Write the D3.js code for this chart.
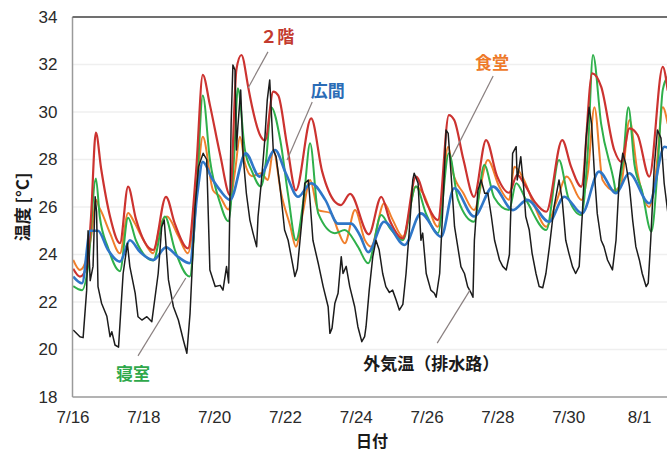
<!DOCTYPE html>
<html><head><meta charset="utf-8">
<script src="https://cdn.jsdelivr.net/npm/d3@7"></script>
<style>
html,body{margin:0;padding:0;background:#fff;}
svg{display:block;}
</style></head>
<body>
<svg id="c" width="667" height="452"></svg>
<script>
// x values are fractional days of July (32 = Aug 1), y values in °C
const yTicks = [18,20,22,24,26,28,30,32,34];
const xTickDays = [16,18,20,22,24,26,28,30,32];
const xTickLabels = ["7/16","7/18","7/20","7/22","7/24","7/26","7/28","7/30","8/1"];

const red2F = [[16.02,23.4],[16.21,23.07],[16.41,23.5],[16.52,25.5],[16.66,29.13],[16.81,27.6],[17.06,25.6],[17.34,24.48],[17.57,26.86],[17.79,25.5],[18.28,24.19],[18.64,26.43],[18.89,25.3],[19.26,24.26],[19.49,27.5],[19.68,31.56],[19.88,30.3],[20.17,28.2],[20.45,26.5],[20.63,31.8],[20.77,32.4],[20.96,31.07],[21.02,30.6],[21.32,28.96],[21.44,28.8],[21.67,30.86],[21.81,30.7],[22.06,28.6],[22.31,26.7],[22.74,29.73],[23.05,27.5],[23.41,26.22],[23.58,26.08],[23.84,26.55],[24.37,24.85],[24.72,26.43],[24.97,25.4],[25.33,24.68],[25.70,27.28],[25.99,26.2],[26.32,25.45],[26.63,29.87],[26.78,29.66],[27.04,28.0],[27.34,26.43],[27.68,28.82],[27.99,27.3],[28.33,26.6],[28.56,27.35],[28.75,27.0],[29.06,26.2],[29.38,25.8],[29.83,28.82],[30.08,27.7],[30.37,26.86],[30.68,31.63],[30.93,31.07],[31.30,28.4],[31.50,27.9],[31.73,29.31],[31.96,29.03],[32.29,27.28],[32.67,31.9],[32.81,30.9]];

const living = [[16.02,23.07],[16.27,22.79],[16.50,25.0],[16.72,25.0],[17.00,24.2],[17.34,23.7],[17.62,24.6],[17.91,24.1],[18.28,23.77],[18.64,24.3],[18.98,23.9],[19.31,23.63],[19.52,26.5],[19.68,27.9],[19.94,27.2],[20.17,26.7],[20.45,26.3],[20.89,28.26],[21.28,27.28],[21.72,28.4],[22.03,27.4],[22.37,26.43],[22.74,27.0],[23.14,26.3],[23.50,25.3],[23.87,25.3],[24.12,24.8],[24.35,24.1],[24.80,25.38],[25.38,24.4],[25.84,25.73],[26.41,24.75],[26.78,26.79],[27.34,25.6],[27.88,26.86],[28.44,25.87],[28.84,26.3],[29.46,25.38],[29.89,26.43],[30.39,25.73],[30.87,27.49],[31.35,26.58],[31.72,27.42],[32.29,26.16],[32.72,28.54],[32.81,28.5]];

const bedroom = [[16.02,22.67],[16.27,22.5],[16.44,23.5],[16.66,27.2],[16.77,25.6],[17.00,24.3],[17.34,23.3],[17.57,25.55],[17.79,24.6],[18.28,23.75],[18.61,25.6],[18.89,24.2],[19.31,23.07],[19.52,27.0],[19.68,30.7],[19.88,28.0],[20.17,26.16],[20.40,25.4],[20.56,28.0],[20.67,31.0],[20.87,28.4],[21.07,27.5],[21.32,26.86],[21.47,28.0],[21.61,30.2],[21.87,28.8],[22.09,26.5],[22.31,24.6],[22.54,26.5],[22.71,28.68],[22.94,25.73],[23.41,24.9],[23.69,25.03],[24.06,24.33],[24.35,23.63],[24.72,25.66],[24.97,25.1],[25.33,24.6],[25.70,26.86],[25.99,25.7],[26.32,24.9],[26.63,28.26],[26.89,26.3],[27.34,25.38],[27.63,27.77],[27.91,26.4],[28.33,25.87],[28.53,27.0],[28.81,26.3],[29.38,25.03],[29.74,27.98],[30.00,26.4],[30.37,25.66],[30.56,28.5],[30.70,32.4],[30.93,29.5],[31.30,27.0],[31.35,26.58],[31.55,28.0],[31.70,30.2],[31.87,27.8],[32.08,26.7],[32.35,24.96],[32.52,27.5],[32.67,30.93],[32.81,31.5]];

const dining = [[16.02,23.77],[16.21,23.35],[16.41,23.9],[16.55,25.0],[16.66,26.3],[16.75,26.0],[16.83,25.75],[17.06,24.9],[17.34,24.05],[17.57,25.75],[17.73,25.4],[17.97,24.7],[18.28,24.05],[18.47,25.2],[18.67,25.6],[18.98,24.8],[19.26,24.05],[19.52,27.0],[19.68,28.96],[19.97,26.7],[20.17,26.43],[20.40,25.9],[20.59,27.5],[20.73,28.96],[20.87,27.84],[21.07,27.3],[21.32,27.42],[21.52,27.14],[21.67,28.4],[21.89,26.58],[22.15,25.2],[22.31,24.33],[22.51,25.8],[22.71,27.14],[22.94,25.87],[23.30,25.74],[23.50,25.0],[23.69,24.47],[23.98,25.87],[24.26,24.6],[24.43,24.33],[24.80,26.16],[25.03,25.5],[25.33,24.75],[25.70,26.86],[25.90,26.58],[26.32,25.17],[26.61,28.54],[26.75,27.42],[27.04,26.58],[27.34,25.87],[27.73,27.98],[28.05,26.86],[28.33,26.3],[28.48,27.7],[28.75,27.14],[29.06,26.0],[29.38,25.17],[29.66,26.2],[29.96,27.28],[30.37,26.3],[30.56,27.5],[30.74,30.2],[30.97,27.14],[31.30,26.7],[31.50,27.0],[31.73,29.66],[31.96,27.42],[32.29,26.0],[32.48,27.5],[32.67,30.2],[32.81,29.5]];

const outdoor = [[16.02,20.82],[16.21,20.54],[16.30,20.5],[16.40,22.5],[16.44,25.0],[16.50,22.9],[16.58,23.5],[16.64,26.43],[16.68,25.8],[16.72,22.65],[16.82,21.95],[16.97,21.4],[17.06,20.54],[17.11,20.75],[17.20,20.19],[17.30,20.1],[17.43,23.2],[17.55,24.47],[17.62,23.49],[17.77,22.37],[17.85,21.38],[17.96,21.24],[18.10,21.38],[18.24,21.17],[18.42,23.2],[18.52,25.17],[18.59,25.45],[18.71,22.93],[18.85,21.8],[18.99,21.24],[19.13,20.4],[19.23,19.84],[19.32,21.52],[19.46,26.0],[19.56,27.7],[19.69,28.26],[19.79,28.0],[19.88,23.35],[20.03,22.65],[20.17,22.7],[20.25,22.5],[20.35,23.49],[20.41,22.8],[20.48,29.52],[20.53,31.98],[20.59,31.77],[20.63,28.4],[20.67,29.38],[20.75,30.93],[20.82,28.12],[20.91,26.58],[21.01,25.45],[21.10,24.89],[21.20,24.33],[21.24,25.59],[21.33,27.0],[21.43,28.82],[21.50,30.5],[21.57,31.35],[21.67,28.4],[21.75,28.12],[21.86,26.86],[21.99,25.03],[22.09,24.6],[22.23,23.49],[22.28,23.07],[22.35,23.4],[22.47,25.3],[22.56,27.0],[22.66,27.14],[22.70,26.43],[22.79,24.6],[22.94,23.63],[23.08,22.65],[23.22,21.8],[23.27,20.68],[23.33,20.9],[23.41,21.95],[23.50,22.37],[23.59,23.91],[23.64,23.2],[23.73,23.5],[23.83,22.65],[23.97,21.8],[24.06,20.96],[24.17,20.33],[24.25,20.54],[24.29,20.96],[24.38,22.5],[24.48,23.9],[24.57,24.6],[24.66,24.2],[24.76,23.2],[24.85,22.65],[24.95,22.4],[25.04,22.5],[25.14,22.08],[25.23,21.66],[25.33,21.9],[25.42,23.2],[25.52,25.17],[25.61,27.14],[25.65,27.42],[25.76,27.0],[25.84,24.6],[25.89,24.9],[25.99,23.2],[26.12,22.5],[26.22,22.37],[26.27,22.2],[26.37,23.2],[26.46,26.0],[26.55,29.24],[26.61,29.1],[26.69,27.42],[26.79,25.17],[26.88,24.33],[26.97,23.49],[27.07,23.2],[27.16,22.65],[27.26,22.37],[27.31,22.2],[27.35,24.6],[27.45,26.7],[27.54,27.14],[27.64,26.58],[27.73,26.58],[27.83,25.6],[27.92,24.6],[28.06,23.77],[28.15,23.5],[28.25,23.35],[28.34,24.0],[28.43,28.26],[28.53,28.54],[28.56,27.14],[28.66,28.12],[28.74,26.86],[28.80,25.6],[28.90,25.03],[28.98,24.05],[29.09,23.2],[29.18,22.65],[29.28,22.6],[29.37,23.2],[29.47,24.33],[29.60,26.0],[29.74,27.14],[29.83,26.3],[29.93,24.6],[30.02,24.05],[30.12,23.49],[30.21,23.2],[30.31,23.5],[30.40,25.73],[30.50,28.82],[30.59,30.2],[30.66,29.5],[30.74,27.42],[30.82,25.73],[30.93,24.6],[31.01,24.33],[31.11,23.77],[31.25,23.35],[31.35,24.6],[31.44,27.14],[31.54,28.26],[31.63,27.8],[31.73,26.86],[31.82,25.45],[31.91,24.33],[32.01,23.77],[32.09,23.2],[32.20,22.65],[32.26,22.8],[32.33,24.6],[32.43,27.7],[32.52,29.24],[32.62,28.9],[32.71,27.0],[32.81,25.8]];

const seriesNames = ["食堂","寝室","２階","広間","外気温（排水路）"];
const seriesData = [dining, bedroom, red2F, living, outdoor];
const seriesColors = ["#f07f2c","#2fb04b","#cc3330","#2f77c8","#1c1c1c"];
const seriesWidths = [2, 2, 2.2, 2.6, 1.5];
const labelColors = ["#ee7a2a","#2ea84a","#c33a2e","#2b6cb6","#1a1a1a"];
// annotation label positions [day, °C], anchor, and leader line endpoints
const labelPos = [[27.85,32.11],[17.71,19.05],[21.78,33.24],[23.21,30.93],[24.21,19.47]];
const labelAnchor = ["middle","middle","middle","middle","start"];
const leaderFrom = [[27.88,31.52],[17.85,19.73],[21.52,32.53],[22.77,30.42],[26.30,20.27]];
const leaderTo = [[26.72,28.11],[19.20,23.01],[20.96,31.01],[22.06,27.98],[27.23,22.51]];

const svg = d3.select("#c");
const pLeft = 72.5, pTop = 17, pBottom = 397, pRight = 667;
const x = d3.scaleLinear().domain([16, 32.79]).range([pLeft, pRight]);
const y = d3.scaleLinear().domain([18, 34]).range([pBottom, pTop]);

// faint gridlines
svg.append("g").selectAll("line").data(yTicks.slice(1,-1)).join("line")
  .attr("x1", pLeft).attr("x2", pRight)
  .attr("y1", d => y(d)).attr("y2", d => y(d))
  .attr("stroke", "#efefef").attr("stroke-width", 1.5);

svg.append("clipPath").attr("id","clp").append("rect")
  .attr("x", pLeft).attr("y", pTop).attr("width", pRight-pLeft).attr("height", pBottom-pTop);

const g = svg.append("g").attr("clip-path","url(#clp)");
seriesData.forEach((data, i) => {
  const line = d3.line().x(d => x(d[0])).y(d => y(d[1]))
    .curve(i === 4 ? d3.curveLinear : d3.curveMonotoneX);
  g.append("path").datum(data)
    .attr("fill","none")
    .attr("stroke", seriesColors[i])
    .attr("stroke-width", seriesWidths[i])
    .attr("stroke-linejoin","round")
    .attr("d", line);
});

// frame
svg.append("line").attr("x1", pLeft).attr("x2", pLeft).attr("y1", pTop).attr("y2", pBottom)
  .attr("stroke","#9a9a9a").attr("stroke-width",1.5);
svg.append("line").attr("x1", pLeft).attr("x2", pRight).attr("y1", pTop).attr("y2", pTop)
  .attr("stroke","#707070").attr("stroke-width",2);
svg.append("line").attr("x1", pLeft).attr("x2", pRight).attr("y1", pBottom).attr("y2", pBottom)
  .attr("stroke","#9a9a9a").attr("stroke-width",1.5);

const tickFont = "'Liberation Sans', Arial, sans-serif";
const yAxis = svg.append("g").attr("transform",`translate(${pLeft},0)`)
  .call(d3.axisLeft(y).tickValues(yTicks).tickSize(0).tickPadding(15));
const xAxis = svg.append("g").attr("transform",`translate(0,${pBottom})`)
  .call(d3.axisBottom(x).tickValues(xTickDays).tickFormat((d,i) => xTickLabels[i]).tickSize(0).tickPadding(14));
[yAxis, xAxis].forEach(a => {
  a.select(".domain").remove();
  a.selectAll("text").attr("font-family", tickFont).attr("font-size", 17).attr("fill", "#2a2a2a");
});

const jp = "'Noto Sans CJK JP', 'Noto Sans', sans-serif";
svg.append("text").attr("transform","translate(21,207) rotate(-90)")
  .attr("text-anchor","middle").attr("dominant-baseline","central")
  .attr("font-family", jp).attr("font-weight","bold").attr("font-size",17).attr("fill","#1a1a1a")
  .text("温度 [°C]");
svg.append("text").attr("x",372).attr("y",440)
  .attr("text-anchor","middle").attr("dominant-baseline","central")
  .attr("font-family", jp).attr("font-weight","bold").attr("font-size",16).attr("fill","#1a1a1a")
  .text("日付");

// annotations
seriesNames.forEach((name, i) => {
  svg.append("line")
    .attr("x1", x(leaderFrom[i][0])).attr("y1", y(leaderFrom[i][1]))
    .attr("x2", x(leaderTo[i][0])).attr("y2", y(leaderTo[i][1]))
    .attr("stroke","#8a8080").attr("stroke-width",1.2);
  svg.append("text").attr("x", x(labelPos[i][0])).attr("y", y(labelPos[i][1]))
    .attr("text-anchor", labelAnchor[i]).attr("dominant-baseline","central")
    .attr("font-family", jp).attr("font-weight","bold").attr("font-size",17)
    .attr("fill", labelColors[i]).text(name);
});
</script>
</body></html>
